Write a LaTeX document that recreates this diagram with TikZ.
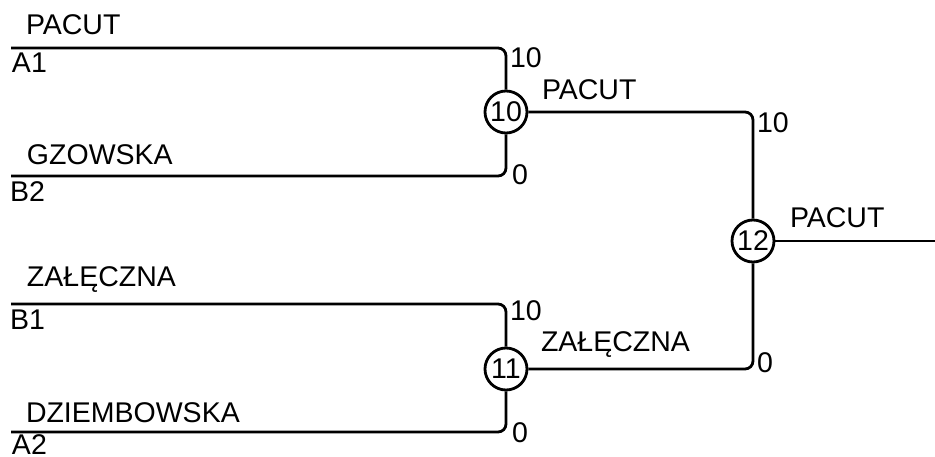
\documentclass[tikz,border=0pt]{standalone}
\usepackage{fontspec}
\setmainfont{Liberation Sans}
\begin{document}
\begin{tikzpicture}[x=1pt,y=-1pt,
  lbl/.style={inner sep=0pt,outer sep=0pt,anchor=base west,font=\fontsize{28.5}{33}\selectfont},
  score/.style={inner sep=0pt,outer sep=0pt,font=\fontsize{28.5}{33}\selectfont},
  match/.style={circle,draw,line width=2.8pt,minimum size=42pt,inner sep=0pt,font=\fontsize{28.5}{33}\selectfont},
  wire/.style={line width=2.8pt,rounded corners=8pt}]
\useasboundingbox (0,0) rectangle (935,457);
% entry points
\coordinate (pA1) at (11,48);
\coordinate (pB2) at (11,176);
\coordinate (pB1) at (11,304);
\coordinate (pA2) at (11,432);
\coordinate (out) at (935,241);
% matches
\node[match] (m10) at (506,112) {10};
\node[match] (m11) at (506,369) {11};
\node[match] (m12) at (753,241) {12};
% wires
\draw[wire] (pA1) -| (m10);
\draw[wire] (pB2) -| (m10);
\draw[wire] (pB1) -| (m11);
\draw[wire] (pA2) -| (m11);
\draw[wire] (m10) -| (m12);
\draw[wire] (m11) -| (m12);
\draw[wire] (m12) -- (out);
% player names
\node[lbl] (nPacut) at (26,35) {PACUT};
\node[lbl] (sA1) at (12,73) {A1};
\node[lbl] (nGz) at (27,165) {GZOWSKA};
\node[lbl] (sB2) at (10,202) {B2};
\node[lbl] (nZal) at (27,287) {ZAŁĘCZNA};
\node[lbl] (sB1) at (10,330) {B1};
\node[lbl] (nDz) at (26,422) {DZIEMBOWSKA};
\node[lbl] (sA2) at (12,454) {A2};
% winners
\node[lbl] (w10) at (542,100) {PACUT};
\node[lbl] (w11) at (541,352) {ZAŁĘCZNA};
\node[lbl] (w12) at (790,228) {PACUT};
% scores
\node[score,anchor=north west] (s1) at (510,48) {10};
\node[score,anchor=base west] (s2) at (512,185) {0};
\node[score,anchor=north west] (s3) at (510,301) {10};
\node[score,anchor=base west] (s4) at (512,442) {0};
\node[score,anchor=north west] (s5) at (757,113) {10};
\node[score,anchor=base west] (s6) at (757,372) {0};
\end{tikzpicture}
\end{document}
